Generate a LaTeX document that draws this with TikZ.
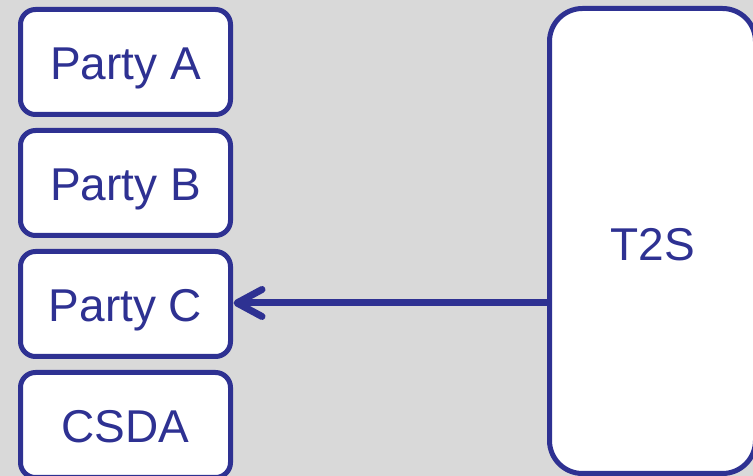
\documentclass[tikz,border=0pt]{standalone}
\usepackage{fontspec}
\setmainfont{Liberation Sans}
\usetikzlibrary{arrows.meta}
\definecolor{navy}{RGB}{46,49,146}
\definecolor{bggray}{RGB}{217,217,217}
\begin{document}
\begin{tikzpicture}[x=1pt,y=1pt,
  party/.style={draw=navy, fill=white, line width=5pt, rounded corners=15pt,
    minimum width=210pt, minimum height=105pt, inner sep=0pt, outer sep=0pt,
    text height=35pt, text depth=0pt,
    text=navy, font=\fontsize{46}{50}\selectfont},
  bigbox/.style={draw=navy, fill=white, line width=5pt, rounded corners=33pt,
    minimum width=206pt, minimum height=465pt, inner sep=0pt, outer sep=0pt,
    text height=40pt, text depth=0pt,
    text=navy, font=\fontsize{46}{50}\selectfont},
  flow/.style={draw=navy, line width=7pt,
    -{Straight Barb[length=25pt,width=27pt,round]}}]
\useasboundingbox (0,0) rectangle (753,476);
\fill[bggray] (0,0) rectangle (753,476);
\begin{scope}
\clip (0,0) rectangle (753,476);
\node[party] (a) at (125.5,414) {Party A};
\node[party] (b) at (125.5,293) {Party B};
\node[party] (c) at (125.5,172) {Party C};
\node[party] (d) at (125.5,51) {CSDA};
\node[bigbox] (t) at (652.5,235) {T2S};
\draw[flow] ([yshift=1pt]c.east -| t.west) -- ([xshift=3pt,yshift=1pt]c.east);
\end{scope}
\end{tikzpicture}
\end{document}
